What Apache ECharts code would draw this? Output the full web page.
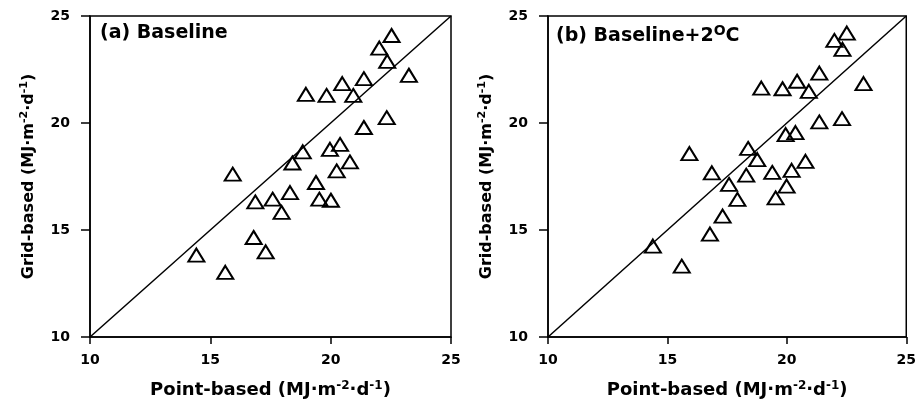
<!DOCTYPE html>
<html><head><meta charset="utf-8">
<script src="https://cdn.jsdelivr.net/npm/echarts@6/dist/echarts.min.js"></script>
<style>html,body{margin:0;padding:0;background:#fff}#c{width:919px;height:404px}</style>
</head><body><div id="c"></div>
<script>
// Panel (a) Baseline
const pointA = [22.53,22.02,22.35,23.25,21.38,20.48,18.97,19.83,20.94,22.33,21.38,20.39,19.97,18.84,20.80,18.41,20.25,15.93,19.39,18.31,17.59,16.87,19.53,20.01,17.96,16.80,17.30,14.42,15.62];
const gridA  = [24.09,23.50,22.88,22.23,22.07,21.84,21.34,21.29,21.29,20.25,19.79,19.00,18.77,18.65,18.18,18.13,17.76,17.61,17.22,16.75,16.44,16.31,16.44,16.39,15.82,14.65,13.98,13.83,13.02];
// Panel (b) Baseline+2°C
const pointB = [22.51,21.99,22.33,21.36,23.21,20.43,18.93,19.82,20.92,21.36,22.31,20.36,19.95,15.92,18.38,18.76,20.78,16.86,18.30,19.39,20.20,17.58,19.99,17.93,19.53,17.31,16.78,14.39,15.60];
const gridB  = [24.20,23.86,23.44,22.33,21.84,21.95,21.63,21.60,21.48,20.05,20.20,19.55,19.46,18.57,18.81,18.29,18.21,17.67,17.56,17.69,17.79,17.13,17.05,16.43,16.50,15.65,14.81,14.25,13.31];
const ticks = [10, 15, 20, 25];
const oneToOne = [[10, 10], [25, 25]];
const titles = ['{a|(a) Baseline}', '{a|(b) Baseline+2}{s|O}{a|C}'];
const xName = '{a|Point-based (MJ·m}{s|-2}{a|·d}{s|-1}{a|)}';
const yName = '{a|Grid-based (MJ·m}{s|-2}{a|·d}{s|-1}{a|)}';

const FONT = 'DejaVu Sans';
function nameRich(size) {
  return {
    a: {fontFamily: FONT, fontWeight: 'bold', fontSize: size, color: '#000'},
    s: {fontFamily: FONT, fontWeight: 'bold', fontSize: Math.round(size * 0.67), color: '#000', verticalAlign: 'top', padding: [0,0,8,0]}
  };
}
const titleRich = {
  a: {fontFamily: FONT, fontWeight: 'bold', fontSize: 19, color: '#000'},
  s: {fontFamily: FONT, fontWeight: 'bold', fontSize: 14, color: '#000', verticalAlign: 'top', padding: [0,0,10,0]}
};
const grids = [
  {left: 90, top: 16, width: 361, height: 321},
  {left: 548, top: 16, width: 360, height: 321}
];
function axisCommon(tickLen, labelMargin, nameSize) {
  return {
    type: 'value', min: ticks[0], max: ticks[ticks.length-1], interval: 5,
    axisLine: {show: true, onZero: false, lineStyle: {color: '#000', width: 1.5}},
    axisTick: {show: true, inside: false, length: tickLen, lineStyle: {color: '#000', width: 1.5}},
    splitLine: {show: false},
    axisLabel: {color: '#000', fontFamily: FONT, fontWeight: 'bold', fontSize: 14, margin: labelMargin},
    nameLocation: 'middle',
    nameTextStyle: {rich: nameRich(nameSize)}
  };
}
const option = {
  animation: false,
  backgroundColor: '#fff',
  title: grids.map((g, i) => ({
    text: titles[i], left: g.left + (i === 0 ? 10 : 8), top: 24, padding: 0,
    textStyle: {rich: titleRich}
  })),
  grid: grids.map(g => Object.assign({show: true, borderColor: '#000', borderWidth: 1.5, backgroundColor: 'transparent'}, g)),
  xAxis: grids.map((g, i) => Object.assign(axisCommon(7, 16, 18), {
    gridIndex: i, name: xName, nameGap: 43
  })),
  yAxis: grids.map((g, i) => Object.assign(axisCommon(9, 20, 16), {
    gridIndex: i, name: yName, nameGap: 52
  })),
  series: [
    {type: 'line', xAxisIndex: 0, yAxisIndex: 0, data: oneToOne, symbol: 'none', lineStyle: {color: '#000', width: 1.5}, z: 1},
    {type: 'line', xAxisIndex: 1, yAxisIndex: 1, data: oneToOne, symbol: 'none', lineStyle: {color: '#000', width: 1.5}, z: 1},
    {type: 'scatter', xAxisIndex: 0, yAxisIndex: 0, data: pointA.map((x, k) => [x, gridA[k]]),
     symbol: 'triangle', symbolSize: [16, 13], itemStyle: {color: 'rgba(255,255,255,0)', borderColor: '#000', borderWidth: 2, opacity: 1}, z: 3},
    {type: 'scatter', xAxisIndex: 1, yAxisIndex: 1, data: pointB.map((x, k) => [x, gridB[k]]),
     symbol: 'triangle', symbolSize: [16, 13], itemStyle: {color: 'rgba(255,255,255,0)', borderColor: '#000', borderWidth: 2, opacity: 1}, z: 3}
  ]
};
echarts.init(document.getElementById('c'), null, {renderer: 'canvas'}).setOption(option);
</script></body></html>
